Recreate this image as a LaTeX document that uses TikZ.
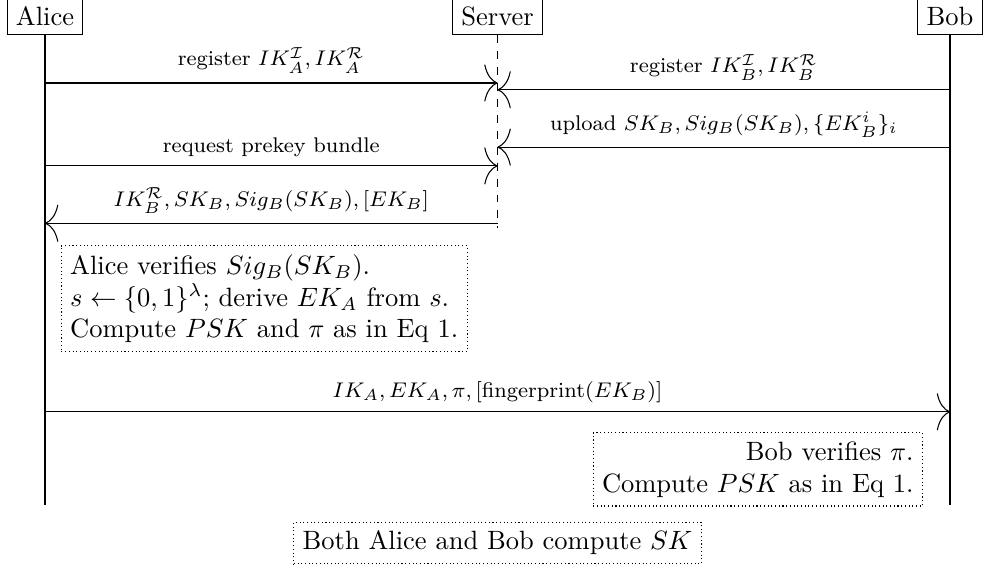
\documentclass[tikz,border=0pt]{standalone}
\usetikzlibrary{arrows.meta}

\begin{document}
\begin{tikzpicture}[
 msg/.style={-{To[length=5pt,width=14pt]}},
 lbl/.style={above, midway, font=\footnotesize},
 note/.style={draw, densely dotted}]
\useasboundingbox (-0.597,0.47) rectangle (12.45,-7.08);
\node[draw, anchor=south] (alice) at (0,0) {Alice};
\node[draw, anchor=south] (server) at (6,0) {Server};
\node[draw, anchor=south] (bob) at (12,0) {Bob};
\coordinate (aliceend) at (0,-6.23);
\coordinate (serverend) at (6,-2.55);
\coordinate (bobend) at (12,-6.23);
\draw[thick] (alice) -- (aliceend);
\draw[thick] (bob) -- (bobend);
\draw[dashed] (server) -- (serverend);
\foreach \n/\y in {1/-0.63, 2/-0.72, 3/-1.48, 4/-1.73, 5/-2.49, 6/-4.99} {
 \coordinate (A\n) at (0,\y);
 \coordinate (S\n) at (6,\y);
 \coordinate (B\n) at (12,\y);
}
\draw[msg] (A1) -- (S1) node[lbl] {register $IK_A^{\mathcal{I}}, IK_A^{\mathcal{R}}$};
\draw[msg] (B2) -- (S2) node[lbl] {register $IK_B^{\mathcal{I}}, IK_B^{\mathcal{R}}$};
\draw[msg] (B3) -- (S3) node[lbl] {upload $SK_B, Sig_B(SK_B), \{EK_B^i\}_i$};
\draw[msg] (A4) -- (S4) node[lbl] {request prekey bundle};
\draw[msg] (S5) -- (A5) node[lbl] {$IK_B^{\mathcal{R}}, SK_B, Sig_B(SK_B), [EK_B]$};
\node[note, align=left, anchor=north west] (aliceverify) at (0.21,-2.78)
 {Alice verifies $Sig_B(SK_B)$.\\
  $s \leftarrow \{0,1\}^{\lambda}$; derive $EK_A$ from $s$.\\
  Compute $PSK$ and $\pi$ as in Eq 1.};
\draw[msg] (A6) -- (B6) node[lbl] {$IK_A, EK_A, \pi, [\mathrm{fingerprint}(EK_B)]$};
\node[note, align=right, anchor=north east] (bobverify) at (11.64,-5.26)
 {Bob verifies $\pi$.\\
  Compute $PSK$ as in Eq 1.};
\node[note] (both) at (6,-6.73) {Both Alice and Bob compute $SK$};
\end{tikzpicture}
\end{document}
